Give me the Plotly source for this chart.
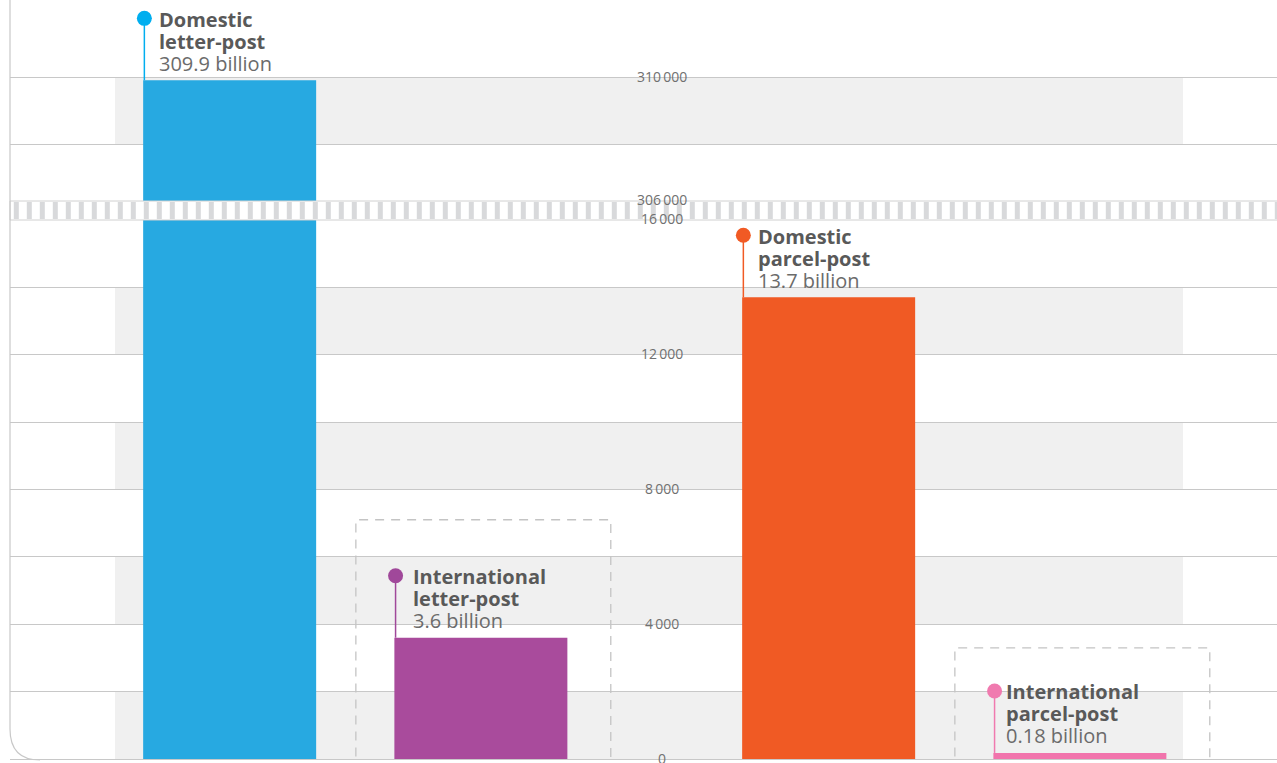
import plotly.graph_objects as go

# ---------------- data (values in millions of items) ----------------
groups = ["Letter-post", "Parcel-post"]
domestic_values = [309900, 13700]
international_values = [3600, 180]
domestic_names = ["Domestic<br>letter-post", "Domestic<br>parcel-post"]
international_names = ["International<br>letter-post", "International<br>parcel-post"]
domestic_labels = ["309.9 billion", "13.7 billion"]
international_labels = ["3.6 billion", "0.18 billion"]
lower_ticks = [0, 4000, 8000, 12000, 16000]
upper_ticks = [306000, 310000]

# ---------------- layout constants ----------------
W, H = 1277, 763
ML, MR, MT, MB = 10, 0, 0, 4
PW, PH = W - ML - MR, H - MT - MB
PX_PER_2000 = 67.4
LOWER_MAX = 16000
UPPER_MIN = 306000
lower_top_px = PH - LOWER_MAX / 2000 * PX_PER_2000          # pixel y from plot top
upper_bottom_px = 211.8
lower_dom = [0, (PH - lower_top_px) / PH]
upper_dom = [(PH - upper_bottom_px) / PH, 1]
upper_max = UPPER_MIN + upper_bottom_px / PX_PER_2000 * 2000

XR = [-0.5764, 1.5388]
BAR_W = 0.2888
OFF_DOM = -0.3541
OFF_INT = 0.0653
DOT_UNITS = 62 / PX_PER_2000 * 2000

C_DOM_L, C_INT_L, C_DOM_P, C_INT_P = "#27a9e1", "#a94b9c", "#f05a24", "#f174ac"
DOT_COLORS_DOM = ["#00aeef", "#f15a24"]
DOT_COLORS_INT = ["#a0489a", "#f07aaf"]
BAR_COLORS_DOM = [C_DOM_L, C_DOM_P]
BAR_COLORS_INT = [C_INT_L, C_INT_P]
GRID = "#c8c8c8"
BAND = "#f0f0f0"
TXT = "#595959"
TXT2 = "#6b6b6b"
FONT = "Open Sans"

xpos = list(range(len(groups)))

fig = go.Figure()

# lower segment bars
fig.add_trace(go.Bar(x=xpos, y=domestic_values, width=BAR_W, offset=OFF_DOM,
                     marker=dict(color=BAR_COLORS_DOM, line=dict(width=0)),
                     xaxis="x", yaxis="y", showlegend=False, hoverinfo="skip"))
fig.add_trace(go.Bar(x=xpos, y=international_values, width=BAR_W, offset=OFF_INT,
                     marker=dict(color=BAR_COLORS_INT, line=dict(width=0)),
                     xaxis="x", yaxis="y", showlegend=False, hoverinfo="skip"))
# upper segment: only values beyond the break
up_x = [x for x, v in zip(xpos, domestic_values) if v > UPPER_MIN]
up_v = [v for v in domestic_values if v > UPPER_MIN]
up_c = [c for c, v in zip(BAR_COLORS_DOM, domestic_values) if v > UPPER_MIN]
fig.add_trace(go.Bar(x=up_x, y=up_v, width=BAR_W, offset=OFF_DOM,
                     marker=dict(color=up_c, line=dict(width=0)),
                     xaxis="x", yaxis="y2", showlegend=False, hoverinfo="skip"))

annotations = []


def add_callout(xg, off, value, names, label, dot_color, xshift):
    yaxis = "y2" if value > UPPER_MIN else "y"
    xl = xg + off + 0.002
    ytop = value + DOT_UNITS
    fig.add_trace(go.Scatter(x=[xl, xl], y=[value, ytop], mode="lines",
                             line=dict(color=dot_color, width=1.5),
                             xaxis="x", yaxis=yaxis, showlegend=False, hoverinfo="skip"))
    fig.add_trace(go.Scatter(x=[xl], y=[ytop], mode="markers",
                             marker=dict(color=dot_color, size=15, line=dict(width=0)),
                             xaxis="x", yaxis=yaxis, showlegend=False, hoverinfo="skip"))
    lines = names.split("<br>")
    for i, ln in enumerate(lines):
        annotations.append(dict(x=xl, y=ytop, xref="x", yref=yaxis, text="<b>%s</b>" % ln,
                                showarrow=False, xanchor="left", yanchor="middle",
                                xshift=xshift, yshift=-1 - 22 * i,
                                font=dict(family=FONT, size=20, color=TXT)))
    annotations.append(dict(x=xl, y=ytop, xref="x", yref=yaxis, text=label,
                            showarrow=False, xanchor="left", yanchor="middle",
                            xshift=xshift, yshift=-1 - 22 * len(lines),
                            font=dict(family=FONT, size=20, color=TXT2)))


for g, v, n, l, c in zip(xpos, domestic_values, domestic_names, domestic_labels, DOT_COLORS_DOM):
    add_callout(g, OFF_DOM, v, n, l, c, 13)
for g, v, n, l, c in zip(xpos, international_values, international_names, international_labels, DOT_COLORS_INT):
    add_callout(g, OFF_INT, v, n, l, c, 15 if g == 0 else 9)

# tick labels
def fmt(v):
    return "{:,}".format(v).replace(",", "\u2009")

for t in lower_ticks:
    annotations.append(dict(x=(662 - ML) / PW, y=t, xref="paper", yref="y", text=fmt(t),
                            showarrow=False, xanchor="center", yanchor="middle",
                            yshift=1,
                            font=dict(family=FONT, size=14, color="#707070")))
for t in upper_ticks:
    annotations.append(dict(x=(662 - ML) / PW, y=t, xref="paper", yref="y2", text=fmt(t),
                            showarrow=False, xanchor="center", yanchor="middle",
                            yshift=12 if t == UPPER_MIN else 1,
                            font=dict(family=FONT, size=14, color="#707070")))

shapes = []
band_x0, band_x1 = (115 - ML) / PW, (1183 - ML) / PW
for b in range(0, LOWER_MAX, 4000):
    shapes.append(dict(type="rect", xref="paper", yref="y", x0=band_x0, x1=band_x1,
                       y0=b, y1=b + 2000, fillcolor=BAND, line=dict(width=0), layer="below"))
shapes.append(dict(type="rect", xref="paper", yref="y2", x0=band_x0, x1=band_x1,
                   y0=308000, y1=310000, fillcolor=BAND, line=dict(width=0), layer="below"))

# dashed boxes around the small bars
box_tops = [7100, 3300]
for g, top in zip(xpos, box_tops):
    x0, x1 = g + 0.001, g + 0.4266
    y0 = -400
    shapes.append(dict(type="path", xref="x", yref="y",
                       path="M %f,%f L %f,%f L %f,%f L %f,%f" % (x0, y0, x0, top, x1, top, x1, y0),
                       line=dict(color="#c4c4c4", width=1.3, dash="9px,7px"), layer="above"))

# axis break strip
s_top = (PH - 201) / PH
s_bot = (PH - 220) / PH
shapes.append(dict(type="rect", xref="paper", yref="paper", x0=0, x1=1.01, y0=s_bot, y1=s_top,
                   fillcolor="white", line=dict(color="#d0d0d0", width=1), layer="above"))
shapes.append(dict(type="line", xref="paper", yref="paper", x0=0.003, x1=1.0,
                   y0=(s_top + s_bot) / 2, y1=(s_top + s_bot) / 2,
                   line=dict(color="#d8d9db", width=17, dash="5px,8px"), layer="above"))

# left frame with rounded corner
r = 30
shapes.append(dict(type="path", xref="paper", yref="paper",
                   path="M 0,1.01 L 0,%f Q 0,%f %f,%f" % (r / PH, -1 / PH, r / PW, -1 / PH),
                   line=dict(color="#c8c8c8", width=1.2), layer="above"))

fig.update_layout(
    width=W, height=H,
    margin=dict(l=ML, r=MR, t=MT, b=MB),
    paper_bgcolor="white", plot_bgcolor="rgba(0,0,0,0)",
    barmode="overlay",
    showlegend=False,
    xaxis=dict(range=XR, showgrid=False, zeroline=False, showticklabels=False,
               showline=False, ticks="", fixedrange=True),
    yaxis=dict(domain=lower_dom, range=[0, LOWER_MAX], dtick=2000, showgrid=True,
               gridcolor=GRID, gridwidth=1, zeroline=True, zerolinecolor=GRID, zerolinewidth=1,
               showticklabels=False, ticks="", showline=False),
    yaxis2=dict(domain=upper_dom, range=[UPPER_MIN, upper_max],
                tickvals=[306000, 308000, 310000], showgrid=True,
                gridcolor=GRID, gridwidth=1, zeroline=False, showticklabels=False,
                ticks="", showline=False, anchor="x"),
    annotations=annotations,
    shapes=shapes,
)

fig.write_html("out.html", config={"displayModeBar": False},
               post_script="document.body.style.margin='0';")
